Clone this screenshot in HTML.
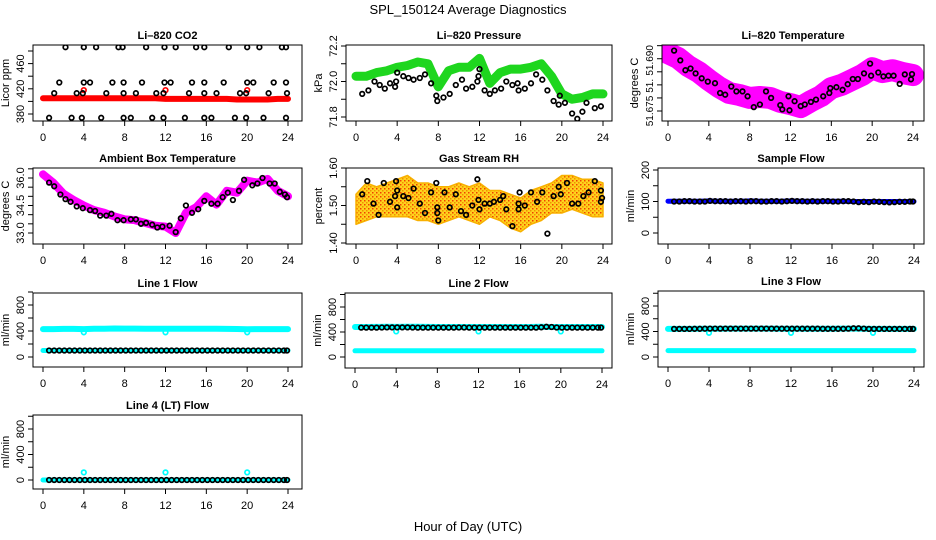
<!DOCTYPE html>
<html><head><meta charset="utf-8"><style>
body{margin:0;background:#fff}
svg{display:block;font-family:"Liberation Sans",sans-serif}
</style></head><body>
<svg id="chart" width="936" height="540" viewBox="0 0 936 540">
<defs>
<pattern id="rhpat" width="4" height="4" patternUnits="userSpaceOnUse"><rect width="4" height="4" fill="#ffd21e"/><rect x="0" y="0" width="1.5" height="1.5" fill="#f04000"/><rect x="2" y="2" width="1.5" height="1.5" fill="#f09000"/></pattern>
</defs>
<text x="468" y="14" text-anchor="middle" font-size="13">SPL_150124  Average Diagnostics</text>
<text x="468" y="531" text-anchor="middle" font-size="13">Hour of Day (UTC)</text>
</svg>
<script>
const hours = [0,1,2,3,4,5,6,7,8,9,10,11,12,13,14,15,16,17,18,19,20,21,22,23,24];
const halfHours = [0.6,1.1,1.6,2.1,2.6,3.1,3.6,4.1,4.6,5.1,5.6,6.1,6.6,7.1,7.6,8.1,8.6,9.1,9.6,10.1,10.6,11.1,11.6,12.1,12.6,13.1,13.6,14.1,14.6,15.1,15.6,16.1,16.6,17.1,17.6,18.1,18.6,19.1,19.6,20.1,20.6,21.1,21.6,22.1,22.6,23.1,23.6,23.9];
const xTicks = [0,4,8,12,16,20,24];

// CO2
const co2Red = [405,405,405,405,405,405,405,405,405,405,405,405,404,404,404,404,404,404,404,403,403,403,403,404,404];
const co2OutHours = [4,12,20];
const co2OutValues = [418,418,418];
const co2BlackHours = [2.2,4,5.2,7.4,7.8,10.1,11.9,13,15,15.8,18.2,20,21.2,23.4,23.8, 1.6,4,4.6,6.8,7.9,9.7,11.9,12.5,14.6,15.8,17.7,20,20.6,22.6,23.8, 1.1,3.3,3.9,6.2,7.9,9.1,11.1,11.8,14.3,15.8,17,19.3,19.9,22.1,23.9, 0.6,2.8,3.8,5.7,7.9,8.6,10.7,11.8,13.9,15.8,16.5,18.8,19.9,21.6,23.8];
const co2BlackValues = [486,486,486,486,486,486,486,486,486,486,486,486,486,486,486, 430,430,430,430,430,430,430,430,430,430,430,430,430,430,430, 413,413,413,413,413,413,413,413,413,413,413,413,413,413,413, 374,374,374,374,374,374,374,374,374,374,374,374,374,374,374];

// Pressure
const presGreen = [72.03,72.03,72.05,72.06,72.08,72.09,72.11,72.1,71.97,72.06,72.08,72.08,72.13,71.99,72.05,72.07,72.07,72.08,72.1,72.03,71.93,71.9,71.91,71.93,71.93];
const presBlackHours = [0.6,1.2,1.8,2.3,2.8,3.3,3.8,3.9,4,4.6,5.1,5.6,6.2,6.7,7.3,7.8,7.9,8.5,9.1,9.7,10.3,10.7,11.3,11.8,11.9,12,12.5,13,13.5,14.1,14.6,15.2,15.7,15.8,16.4,17,17.5,18.1,18.6,19.2,19.7,19.8,20.3,21,21.5,22,22.4,23.2,23.8];
const presBlackValues = [71.93,71.95,72.0,71.98,71.96,71.99,71.97,72.0,72.05,72.03,72.02,72.01,72.02,72.04,71.99,71.92,71.89,71.91,71.93,71.98,72.01,71.96,71.97,72.0,72.03,72.07,71.95,71.93,71.95,71.96,72.0,71.98,71.99,71.95,71.96,71.99,72.04,72.01,71.95,71.89,71.87,71.92,71.88,71.82,71.79,71.83,71.88,71.85,71.86];

// Li-820 temperature
const tempMagenta = [51.6927,51.6912,51.6887,51.6869,51.6845,51.6823,51.6805,51.6799,51.679,51.6793,51.679,51.6778,51.6771,51.6762,51.678,51.6796,51.682,51.683,51.6845,51.686,51.6881,51.6869,51.6875,51.6866,51.686];
const tempBlackHours = [0.6,1.2,1.7,2.2,2.7,3.3,3.9,4.6,5.1,5.6,6.2,6.7,7.3,7.8,8.4,9,9.6,10.1,11,11.2,11.8,11.9,12.4,13,13.4,14,14.5,15.2,15.8,15.9,16.5,17.1,17.6,18.1,18.6,19.2,19.8,19.9,20.6,21.1,21.6,22.1,22.7,23.2,23.8,23.9];
const tempBlackValues = [51.6935,51.6905,51.6875,51.688,51.6865,51.685,51.684,51.6835,51.6805,51.68,51.6825,51.681,51.681,51.6795,51.6762,51.677,51.681,51.679,51.6768,51.6755,51.6795,51.6752,51.678,51.6765,51.677,51.6778,51.6785,51.6795,51.6805,51.682,51.6823,51.6815,51.6832,51.6848,51.6848,51.6865,51.6895,51.6858,51.6868,51.6856,51.6858,51.6858,51.6833,51.6862,51.6847,51.6863];

// Ambient
const ambMagenta = [36.2,35.75,35.15,34.8,34.5,34.25,34.1,33.9,33.75,33.7,33.55,33.4,33.35,33.0,34.1,34.4,35.0,34.55,35.3,35.2,35.85,35.75,35.95,35.3,35.0];
const ambBlackHours = [0.6,1.1,1.7,2.2,2.7,3.3,3.9,4.6,5.1,5.6,6.2,6.7,7.3,7.9,8.6,9.1,9.6,10.1,10.7,11.2,11.7,12.4,13,13.5,14,14.6,15.2,15.8,16.5,17.1,17.6,18.1,18.6,19.2,19.7,20.5,21,21.5,22.2,22.7,23.2,23.7,23.9];
const ambBlackValues = [35.75,35.55,35.1,34.85,34.7,34.45,34.35,34.25,34.2,33.95,33.95,34.05,33.7,33.7,33.75,33.75,33.5,33.55,33.45,33.3,33.35,33.4,33.05,33.8,34.5,34.1,34.3,34.75,34.6,34.6,34.95,35.2,34.8,35.3,35.9,35.6,35.7,36.0,35.7,35.7,35.25,35.1,34.95];

// RH
const rhUpper = [1.53,1.56,1.55,1.56,1.57,1.58,1.56,1.56,1.55,1.55,1.56,1.55,1.56,1.54,1.54,1.53,1.52,1.54,1.55,1.56,1.58,1.58,1.57,1.57,1.56];
const rhLower = [1.45,1.46,1.47,1.47,1.47,1.47,1.46,1.46,1.45,1.46,1.47,1.46,1.45,1.47,1.46,1.44,1.43,1.45,1.46,1.48,1.48,1.49,1.48,1.47,1.47];
const rhBlackHours = [0.6,1.1,1.7,2.2,2.7,3.3,3.8,3.9,4,4,4.6,5.1,5.6,6.2,6.7,7.3,7.8,7.9,7.9,8,8.6,9.1,9.7,10.2,10.7,11.3,11.8,11.9,12,12.5,13,13.4,14,14.3,14.6,15.2,15.8,15.8,15.9,16.4,17,17.6,18.1,18.6,19.2,19.7,19.9,20.5,21,21.6,22.1,22.6,23.2,23.8,23.8,23.9];
const rhBlackValues = [1.53,1.565,1.505,1.475,1.56,1.51,1.525,1.565,1.54,1.495,1.525,1.52,1.545,1.505,1.48,1.535,1.56,1.48,1.495,1.46,1.535,1.495,1.53,1.485,1.475,1.5,1.57,1.515,1.49,1.505,1.505,1.51,1.515,1.525,1.49,1.445,1.505,1.49,1.535,1.5,1.535,1.51,1.535,1.425,1.525,1.55,1.53,1.56,1.505,1.505,1.525,1.535,1.565,1.51,1.54,1.52];

// Flows
const sampleBlue = [101,101,101,101,102,101,101,101,102,101,101,101,102,101,101,101,101,101,100,100,100,100,100,100,100];
const sampleBlack = [100,100,101,101,100,100,100,102,101,101,101,100,101,101,100,101,101,100,100,101,101,100,101,102,101,101,100,101,100,101,101,100,100,101,101,100,98,99,98,100,99,98,97,98,99,99,100,100];
const line1High = [430,430,432,433,430,436,436,438,437,437,436,436,434,436,436,436,436,434,433,431,428,430,430,430,430];
const line1Low = [100,100,100,100,100,100,100,100,100,100,100,100,100,100,100,100,100,100,100,100,100,100,100,100,100];
const line1Black = [100,100,100,100,100,100,100,100,100,100,100,100,100,100,100,100,100,100,100,100,100,100,100,100,100,100,100,100,100,100,100,100,100,100,100,100,100,100,100,100,100,100,100,100,100,100,100,100];
const line2High = [480,480,482,484,482,484,484,482,480,480,480,480,480,480,480,480,480,480,484,480,480,480,480,480,480];
const line2Low = [100,100,100,100,100,100,100,100,100,100,100,100,100,100,100,100,100,100,100,100,100,100,100,100,100];
const line2Black = [470,470,470,470,472,474,474,474,474,474,472,470,470,470,470,470,470,470,470,472,472,470,470,470,470,470,470,470,470,470,470,470,470,470,470,476,484,480,472,470,470,470,470,470,470,470,470,470];
const line3High = [440,440,440,442,442,444,446,446,446,446,446,444,444,444,444,442,442,446,446,444,440,440,440,440,440];
const line3Low = [100,100,100,100,100,100,100,100,100,100,100,100,100,100,100,100,100,100,100,100,100,100,100,100,100];
const line3Black = [440,440,440,440,442,442,444,446,446,446,446,446,446,446,446,446,446,446,446,446,444,444,444,444,444,444,444,444,444,442,442,442,442,442,446,450,450,446,440,440,440,440,440,440,440,440,440,440];
const line4Cyan = [0,0,0,0,0,0,0,0,0,0,0,0,0,0,0,0,0,0,0,0,0,0,0,0,0];
const line4Black = [0,0,0,0,0,0,0,0,0,0,0,0,0,0,0,0,0,0,0,0,0,0,0,0,0,0,0,0,0,0,0,0,0,0,0,0,0,0,0,0,0,0,0,0,0,0,0,0];
const flowOutHours = [4,12,20];
const line1Out = [380,380,380];
const line2Out = [410,410,410];
const line3Out = [380,380,380];
const line4Out = [120,120,120];

const svg = document.getElementById('chart');
const NS = 'http://www.w3.org/2000/svg';
function mk(tag, attrs, parent) {
  const e = document.createElementNS(NS, tag);
  for (const k in attrs) e.setAttribute(k, attrs[k]);
  (parent || svg).appendChild(e);
  return e;
}

function panel(cfg) {
  const g = mk('g', {});
  
  
  const xs = h => cfg.x0 + (cfg.x24 - cfg.x0) * h / 24;
  const ys = v => cfg.p0 + (cfg.p1 - cfg.p0) * (v - cfg.v0) / (cfg.v1 - cfg.v0);
  const clip = 'clip-' + cfg.name;
  const cp = mk('clipPath', {id: clip}, g);
  mk('rect', {x: cfg.l, y: cfg.t, width: cfg.r - cfg.l, height: cfg.b - cfg.t}, cp);
  const plot = mk('g', {'clip-path': 'url(#' + clip + ')'}, g);
  cfg.series.forEach(s => {
    if (s.type === 'band') {
      const pts = s.xs.map((h, i) => xs(h).toFixed(1) + ',' + ys(s.ys[i]).toFixed(1)).join(' ');
      const e = mk('polyline', {points: pts, fill: 'none', stroke: s.color, 'stroke-width': s.w, 'stroke-linejoin': 'round', 'stroke-linecap': 'round'}, plot);
      
      
    } else if (s.type === 'area') {
      const up = s.xs.map((h, i) => xs(h).toFixed(1) + ',' + ys(s.hi[i]).toFixed(1));
      const lo = s.xs.map((h, i) => xs(h).toFixed(1) + ',' + ys(s.lo[i]).toFixed(1)).reverse();
      const e = mk('polygon', {points: up.concat(lo).join(' '), fill: s.fill, stroke: '#f8b000', 'stroke-width': 1.5, 'stroke-linejoin': 'round'}, plot);
      
      
    } else {
      s.xs.forEach((h, i) => {
        const c = mk('circle', {cx: xs(h).toFixed(1), cy: ys(s.ys[i]).toFixed(1), r: s.r || 2.3, fill: 'none', stroke: s.color, 'stroke-width': s.sw || 1.7}, plot);
        
        
      });
    }
  });
  const box = mk('rect', {x: cfg.l, y: cfg.t, width: cfg.r - cfg.l, height: cfg.b - cfg.t, fill: 'none', stroke: '#000', 'stroke-width': 1}, g);
  
  
  const title = mk('text', {x: (cfg.l + cfg.r) / 2, y: cfg.t - 6, 'text-anchor': 'middle', 'font-size': 11, 'font-weight': 'bold'}, g);
  title.textContent = cfg.title;
  
  
  mk('line', {x1: xs(0), x2: xs(24), y1: cfg.b, y2: cfg.b, stroke: '#000'}, g);
  xTicks.forEach(t => {
    mk('line', {x1: xs(t), x2: xs(t), y1: cfg.b, y2: cfg.b + 5, stroke: '#000'}, g);
    const tx = mk('text', {x: xs(t), y: cfg.b + 20, 'text-anchor': 'middle', 'font-size': 11}, g);
    tx.textContent = t;
    
    
  });
  cfg.yTicks.forEach(t => {
    mk('line', {x1: cfg.l - 5, x2: cfg.l, y1: ys(t), y2: ys(t), stroke: '#000'}, g);
  });
  const yfs = cfg.yfs || 11;
  cfg.yLabels.forEach((t, i) => {
    const y = ys(t);
    const tx = mk('text', {x: cfg.l - 9, y: y, 'text-anchor': 'middle', 'font-size': yfs, transform: 'rotate(-90 ' + (cfg.l - 9) + ' ' + y + ')'}, g);
    tx.textContent = cfg.yLabelText[i];
    
    
  });
  const yt = mk('text', {x: cfg.l - 24, y: (cfg.t + cfg.b) / 2, 'text-anchor': 'middle', 'font-size': 11, transform: 'rotate(-90 ' + (cfg.l - 24) + ' ' + ((cfg.t + cfg.b) / 2) + ')'}, g);
  yt.textContent = cfg.ylab;
  
  
}

const flowTicks = [0,200,400,600,800,1000];
const flowLabels = [0,400,800];
const flowLabelText = ['0','400','800'];

panel({name:'co2-panel', title:'Li\u2013820 CO2', ylab:'Licor ppm', l:33,t:45,r:302,b:121,x0:43,x24:288, v0:380,p0:114,v1:480,p1:51,
  yTicks:[380,400,420,440,460,480], yLabels:[380,420,460], yLabelText:['380','420','460'],
  series:[{type:'band',name:'co2-red-band',xs:hours,ys:co2Red,color:'#f00',w:6},
          {type:'pts',name:'co2-red-outlier',xs:co2OutHours,ys:co2OutValues,color:'#f00'},
          {type:'pts',name:'co2-black',xs:co2BlackHours,ys:co2BlackValues,color:'#000'}]});
panel({name:'pressure-panel', title:'Li\u2013820 Pressure', ylab:'kPa', l:346,t:45,r:612,b:121,x0:356,x24:603, v0:71.8,p0:117,v1:72.2,p1:46,
  yTicks:[71.8,71.9,72.0,72.1,72.2], yLabels:[71.8,72.0,72.2], yLabelText:['71.8','72.0','72.2'],
  series:[{type:'band',name:'pressure-green-band',xs:hours,ys:presGreen,color:'#1ed61e',w:9},
          {type:'pts',name:'pressure-black',xs:presBlackHours,ys:presBlackValues,color:'#000'}]});
panel({name:'li820-temp-panel', title:'Li\u2013820 Temperature', ylab:'degrees C', l:662,t:45,r:924,b:121,x0:668,x24:913, v0:51.675,p0:111,v1:51.690,p1:62, yfs:10,
  yTicks:[51.675,51.679,51.683,51.687,51.691,51.695], yLabels:[51.675,51.6827,51.6905], yLabelText:['51.675','51.','51.690'],
  series:[{type:'band',name:'temp-magenta-band',xs:hours,ys:tempMagenta,color:'#f0f',w:22},
          {type:'pts',name:'temp-black',xs:tempBlackHours,ys:tempBlackValues,color:'#000'}]});
panel({name:'ambient-panel', title:'Ambient Box Temperature', ylab:'degrees C', l:33,t:168,r:302,b:244,x0:43,x24:288, v0:33,p0:233,v1:36,p1:178,
  yTicks:[33,33.5,34,34.5,35,35.5,36,36.5], yLabels:[33,34.5,36], yLabelText:['33.0','34.5','36.0'],
  series:[{type:'band',name:'ambient-magenta-band',xs:hours,ys:ambMagenta,color:'#f0f',w:8},
          {type:'pts',name:'ambient-black',xs:ambBlackHours,ys:ambBlackValues,color:'#000'}]});
panel({name:'rh-panel', title:'Gas Stream RH', ylab:'percent', l:346,t:168,r:612,b:244,x0:356,x24:603, v0:1.40,p0:243,v1:1.60,p1:168,
  yTicks:[1.40,1.45,1.50,1.55,1.60], yLabels:[1.40,1.50,1.60], yLabelText:['1.40','1.50','1.60'],
  series:[{type:'area',name:'rh-orange-cloud',xs:hours,hi:rhUpper,lo:rhLower,fill:'url(#rhpat)'},
          {type:'pts',name:'rh-black',xs:rhBlackHours,ys:rhBlackValues,color:'#000'}]});
panel({name:'sample-flow-panel', title:'Sample Flow', ylab:'ml/min', l:658,t:168,r:924,b:244,x0:668,x24:914, v0:0,p0:233,v1:200,p1:170,
  yTicks:[0,50,100,150,200], yLabels:[0,100,200], yLabelText:['0','100','200'],
  series:[{type:'band',name:'sample-blue-band',xs:hours,ys:sampleBlue,color:'#00f',w:5},
          {type:'pts',name:'sample-black',xs:halfHours,ys:sampleBlack,color:'#000'}]});
panel({name:'line1-panel', title:'Line 1 Flow', ylab:'ml/min', l:33,t:293,r:302,b:367,x0:43,x24:288, v0:0,p0:357,v1:800,p1:305,
  yTicks:flowTicks, yLabels:flowLabels, yLabelText:flowLabelText,
  series:[{type:'band',name:'line1-cyan-high',xs:hours,ys:line1High,color:'#0ff',w:6},
          {type:'band',name:'line1-cyan-low',xs:hours,ys:line1Low,color:'#0ff',w:5},
          {type:'pts',name:'line1-cyan-outlier',xs:flowOutHours,ys:line1Out,color:'#0ff'},
          {type:'pts',name:'line1-black',xs:halfHours,ys:line1Black,color:'#000'}]});
panel({name:'line2-panel', title:'Line 2 Flow', ylab:'ml/min', l:345,t:293,r:612,b:368,x0:355,x24:602, v0:0,p0:357,v1:800,p1:307,
  yTicks:flowTicks, yLabels:flowLabels, yLabelText:flowLabelText,
  series:[{type:'band',name:'line2-cyan-high',xs:hours,ys:line2High,color:'#0ff',w:6},
          {type:'band',name:'line2-cyan-low',xs:hours,ys:line2Low,color:'#0ff',w:5},
          {type:'pts',name:'line2-cyan-outlier',xs:flowOutHours,ys:line2Out,color:'#0ff'},
          {type:'pts',name:'line2-black',xs:halfHours,ys:line2Black,color:'#000'}]});
panel({name:'line3-panel', title:'Line 3 Flow', ylab:'ml/min', l:658,t:291,r:924,b:367,x0:668,x24:914, v0:0,p0:357,v1:800,p1:306,
  yTicks:flowTicks, yLabels:flowLabels, yLabelText:flowLabelText,
  series:[{type:'band',name:'line3-cyan-high',xs:hours,ys:line3High,color:'#0ff',w:6},
          {type:'band',name:'line3-cyan-low',xs:hours,ys:line3Low,color:'#0ff',w:5},
          {type:'pts',name:'line3-cyan-outlier',xs:flowOutHours,ys:line3Out,color:'#0ff'},
          {type:'pts',name:'line3-black',xs:halfHours,ys:line3Black,color:'#000'}]});
panel({name:'line4-panel', title:'Line 4 (LT) Flow', ylab:'ml/min', l:33,t:415,r:302,b:489,x0:43,x24:288, v0:0,p0:480,v1:800,p1:429,
  yTicks:flowTicks, yLabels:flowLabels, yLabelText:flowLabelText,
  series:[{type:'band',name:'line4-cyan',xs:hours,ys:line4Cyan,color:'#0ff',w:5},
          {type:'pts',name:'line4-cyan-outlier',xs:flowOutHours,ys:line4Out,color:'#0ff'},
          {type:'pts',name:'line4-black',xs:halfHours,ys:line4Black,color:'#000'}]});
</script>
</body></html>
